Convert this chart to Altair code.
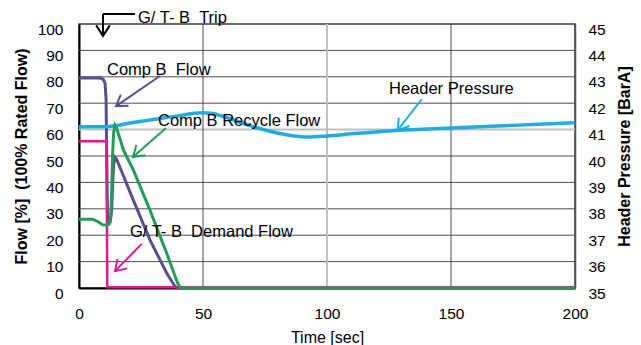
import math
import altair as alt
import pandas as pd

# Plot-area size in pixels and the fixed axis ranges
W, H = 496, 264
T_RANGE = [0, 200]
FLOW_RANGE = [0, 100]
PRESS_RANGE = [35, 45]

# Comp B flow [% rated]
comp_b_t = [0, 8.5, 9.8, 10.5, 10.9, 11.2, 11.5, 12.0, 12.6, 13.2, 13.6, 14.0,
            14.5, 15.3, 21.9, 28.6, 35.4, 38.4, 39.3, 40.5, 200]
comp_b_flow = [79.5, 79.5, 79.0, 77.5, 72.0, 50.0, 28.0, 24.5, 25.0, 30.0, 40.0, 47.0,
               49.5, 48.5, 33.3, 18.2, 5.6, 1.0, 0.2, 0.0, 0.0]

# Comp B recycle flow [% rated]
recycle_t = [0, 5.5, 7.5, 9.5, 11.0, 12.2, 12.8, 13.2, 13.6, 14.0, 14.5, 15.2,
             17.9, 21.9, 28.6, 35.4, 39.5, 40.5, 41.5, 200]
recycle_flow = [26.0, 26.0, 25.2, 24.0, 23.8, 24.2, 27.0, 38.0, 52.0, 59.0, 61.7, 60.5,
                52.3, 44.7, 29.5, 13.1, 2.5, 0.6, 0.0, 0.0]

# G/T-B demand flow [% rated]
demand_t = [0, 11.1, 11.4, 200]
demand_flow = [55.6, 55.6, 0.3, 0.3]

# Header pressure [BarA]
header_t = [0, 8, 13, 20, 27, 34, 40, 45, 50, 54, 57, 61, 66, 72.5, 80, 86, 92,
            100, 110, 128, 150, 175, 200]
header_p = [41.11, 41.11, 41.13, 41.24, 41.34, 41.44, 41.52, 41.60, 41.64, 41.61,
            41.53, 41.41, 41.24, 41.05, 40.87, 40.77, 40.72, 40.76, 40.84, 40.97,
            41.06, 41.16, 41.26]

# Tick values
time_ticks = [0, 50, 100, 150, 200]
flow_ticks = list(range(0, 101, 10))
press_ticks = list(range(35, 46))

# Callout labels (left edge / baseline, in time & flow units)
NB = "\u00a0"
label_text = [f"G/ T- B{NB}{NB}Trip", f"Comp B{NB}{NB}Flow", "Comp B Recycle Flow",
              "Header Pressure", f"G/ T- B{NB}{NB}Demand Flow"]
label_t = [23.8, 11.3, 31.85, 125.0, 20.56]
label_flow = [100.4, 80.7, 61.4, 73.5, 19.4]

# Callout arrows: start -> end, colour, arrowhead at end or not
arrow_t0 = [32.66, 35.08, 138.2, 25.28, 22.6, 9.68]
arrow_f0 = [80.3, 60.6, 71.5, 16.7, 103.8, 103.8]
arrow_t1 = [14.92, 21.77, 128.5, 14.52, 9.68, 9.68]
arrow_f1 = [68.9, 49.6, 59.8, 6.4, 103.8, 95.5]
arrow_color = ["#5a4f8f", "#1f9e55", "#1aaee8", "#e8168c", "#000000", "#000000"]
arrow_head = [True, True, True, True, False, True]

PURPLE, GREEN, BLUE, PINK = "#5a4f8f", "#1f9e55", "#1aaee8", "#e8168c"
GRID_DARK, GRID_LIGHT = "#4f4f4f", "#c0c0c0"
FONT = "Liberation Sans"

sx = W / (T_RANGE[1] - T_RANGE[0])
sy = H / (FLOW_RANGE[1] - FLOW_RANGE[0])

arrows = pd.DataFrame({"t0": arrow_t0, "f0": arrow_f0, "t1": arrow_t1,
                       "f1": arrow_f1, "color": arrow_color, "head": arrow_head})
arrows["angle"] = [
    math.degrees(math.atan2(-(f1 - f0) * sy, (t1 - t0) * sx)) % 360
    for t0, f0, t1, f1 in zip(arrow_t0, arrow_f0, arrow_t1, arrow_f1)
]
heads = arrows[arrows["head"]]
labels = pd.DataFrame({"text": label_text, "t": label_t, "flow": label_flow})

# Grid lines: the 60 % line and the 100 s line are drawn lighter and wider
hgrid = pd.DataFrame({"flow": flow_ticks[1:-1]})
hgrid["light"] = hgrid["flow"] == 60
vgrid = pd.DataFrame({"t": time_ticks[1:-1]})
vgrid["light"] = vgrid["t"] == 100

# One shared x axis definition, used by every layer so the merged axis survives
x_axis = alt.Axis(
    values=time_ticks, title="Time [sec]", grid=False,
    labelFlush=False, labelPadding=18, domainColor="#000000", domainWidth=2,
    titleX=W / 2, titleY=54, titleAlign="center", titleBaseline="alphabetic",
    titleFontWeight="normal", titleFontSize=16,
)

y_left_axis = alt.Axis(
    values=flow_ticks, title=f"Flow [%]{NB}{NB}(100% Rated Flow)", grid=False,
    labelPadding=16, labelOffset=5, domainColor="#000000", domainWidth=2,
    titleX=-58, titleY=H / 2, titleAngle=270, titleAlign="center",
    titleBaseline="middle", titleFontWeight="bold", titleFontSize=16,
)

y_right_axis = alt.Axis(
    values=press_ticks, title="Header Pressure [BarA]", orient="right",
    grid=False, labelPadding=13, labelOffset=5, domainColor="#555555",
    domainWidth=1.5, titleX=49, titleY=H / 2, titleAngle=270, titleAlign="center",
    titleBaseline="middle", titleFontWeight="bold", titleFontSize=16,
)


def xs(field="t"):
    return alt.X(f"{field}:Q", scale=alt.Scale(domain=T_RANGE, nice=False),
                 axis=x_axis)


def ys(field="flow", axis=None):
    return alt.Y(f"{field}:Q", scale=alt.Scale(domain=FLOW_RANGE, nice=False),
                 axis=axis)


hgrid_marks = alt.Chart(hgrid).mark_rule().encode(
    y=ys(axis=y_left_axis),
    color=alt.condition("datum.light", alt.value(GRID_LIGHT), alt.value(GRID_DARK)),
    strokeWidth=alt.condition("datum.light", alt.value(2), alt.value(1)),
)

vgrid_marks = alt.Chart(vgrid).mark_rule().encode(
    x=xs(),
    color=alt.condition("datum.light", alt.value(GRID_LIGHT), alt.value(GRID_DARK)),
    strokeWidth=alt.condition("datum.light", alt.value(2), alt.value(1)),
)

comp_b = alt.Chart(pd.DataFrame({"t": comp_b_t, "flow": comp_b_flow})).mark_line(
    color=PURPLE, strokeWidth=3).encode(x=xs(), y=ys())

demand = alt.Chart(pd.DataFrame({"t": demand_t, "flow": demand_flow})).mark_line(
    color=PINK, strokeWidth=2.5).encode(x=xs(), y=ys())

header = alt.Chart(pd.DataFrame({"t": header_t, "p": header_p})).mark_line(
    color=BLUE, strokeWidth=3.5, interpolate="monotone").encode(
    x=xs(),
    y=alt.Y("p:Q", scale=alt.Scale(domain=PRESS_RANGE, nice=False), axis=y_right_axis),
)

recycle = alt.Chart(pd.DataFrame({"t": recycle_t, "flow": recycle_flow})).mark_line(
    color=GREEN, strokeWidth=3).encode(x=xs(), y=ys())

label_marks = alt.Chart(labels).mark_text(
    align="left", baseline="alphabetic", font=FONT, fontSize=16.5, color="#000000"
).encode(x=xs(), y=ys(), text="text:N")

shafts = alt.Chart(arrows).mark_rule(strokeWidth=2).encode(
    x=xs("t0"), y=ys("f0"), x2="t1:Q", y2="f1:Q",
    color=alt.Color("color:N", scale=None),
)

head_marks = alt.Chart(heads).mark_point(
    shape="M-1,-0.65L0,0L-1,0.65", filled=False, size=440, strokeWidth=2, opacity=1
).encode(
    x=xs("t1"), y=ys("f1"),
    angle=alt.Angle("angle:Q", scale=None),
    color=alt.Color("color:N", scale=None),
)

chart = alt.layer(
    hgrid_marks, vgrid_marks, comp_b, demand, header, recycle,
    label_marks, shafts, head_marks,
).resolve_scale(y="independent").properties(
    width=W, height=H,
    padding={"left": 79, "top": 24, "right": 66, "bottom": 57},
    autosize=alt.AutoSizeParams(type="none"),
    background="white",
).configure_view(
    stroke="#3a3a3a", strokeWidth=1.5,
).configure_axis(
    labelFont=FONT, labelFontSize=15.5, labelColor="#000000",
    titleFont=FONT, titleColor="#000000", ticks=False, tickSize=0,
)

chart.save("out.html", embed_options={"renderer": "svg", "actions": False})
